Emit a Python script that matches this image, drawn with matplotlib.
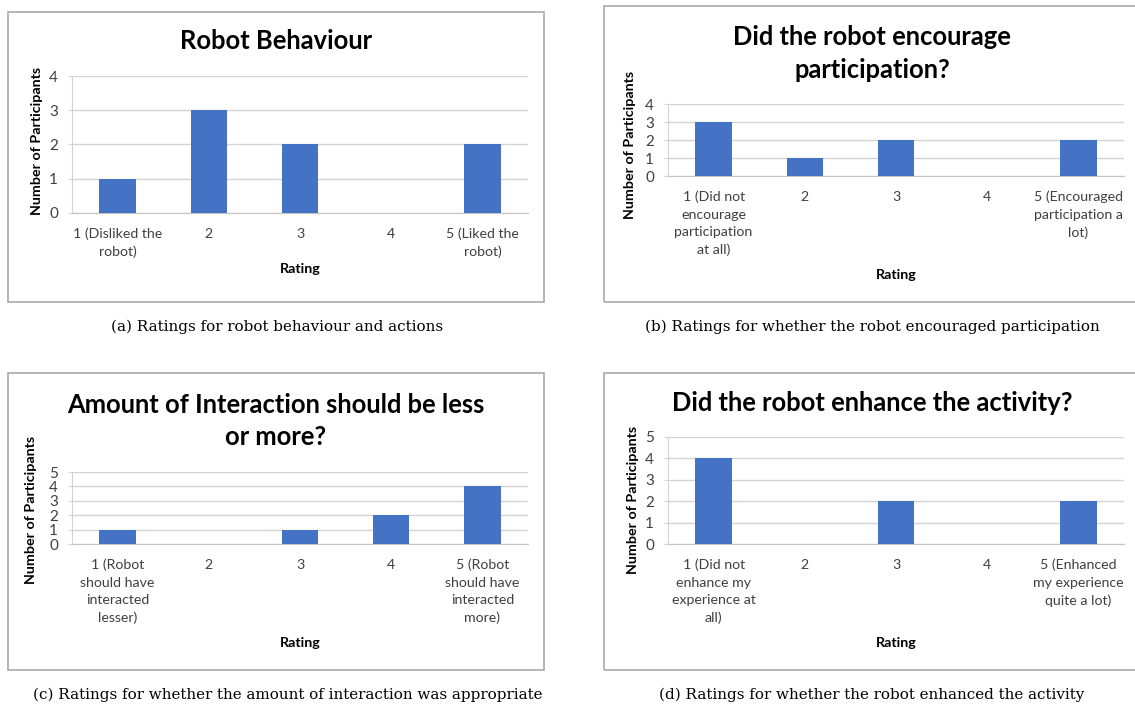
import matplotlib
matplotlib.use("Agg")
import matplotlib.pyplot as plt
from matplotlib.patches import Rectangle

# --- DATA ---
ratings_behaviour = ["1 (Disliked the\nrobot)", "2", "3", "4", "5 (Liked the\nrobot)"]
counts_behaviour = [1, 3, 2, 0, 2]

ratings_encourage = ["1 (Did not\nencourage\nparticipation\nat all)", "2", "3", "4",
                     "5 (Encouraged\nparticipation a\nlot)"]
counts_encourage = [3, 1, 2, 0, 2]

ratings_amount = ["1 (Robot\nshould have\ninteracted\nlesser)", "2", "3", "4",
                  "5 (Robot\nshould have\ninteracted\nmore)"]
counts_amount = [1, 0, 1, 2, 4]

ratings_enhance = ["1 (Did not\nenhance my\nexperience at\nall)", "2", "3", "4",
                   "5 (Enhanced\nmy experience\nquite a lot)"]
counts_enhance = [4, 0, 2, 0, 2]

W, H = 1135, 704
BAR = "#4472C4"
GRID = "#d4d4d4"
SANS = "Lato"
SERIF = "DejaVu Serif"

fig = plt.figure(figsize=(W / 100, H / 100), dpi=100)
fig.patch.set_facecolor("white")


def fx(px):
    return px / W


def fy(py):
    return 1 - py / H


# box, axes, title lines, ylabel pos, xlabel pos, caption pos (all in pixels)
panels = [
    dict(box=(8, 12, 544, 302), ax=(72, 76, 528, 213), ymax=4,
         title=["Robot Behaviour"], title_x=276, title_y=[41],
         ylab=(37, 141), xlab=(300, 269), cap=(277, 327),
         caption="(a) Ratings for robot behaviour and actions",
         cats=ratings_behaviour, vals=counts_behaviour),
    dict(box=(604, 6, 1150, 302), ax=(668, 104, 1124, 176), ymax=4,
         title=["Did the robot encourage", "participation?"], title_x=872, title_y=[37, 70],
         ylab=(630, 145), xlab=(896, 275), cap=(872, 327),
         caption="(b) Ratings for whether the robot encouraged participation",
         cats=ratings_encourage, vals=counts_encourage),
    dict(box=(8, 373, 544, 670), ax=(72, 472, 528, 544), ymax=5,
         title=["Amount of Interaction should be less", "or more?"], title_x=276, title_y=[405, 437],
         ylab=(31, 510), xlab=(300, 643), cap=(288, 695),
         caption="(c) Ratings for whether the amount of interaction was appropriate",
         cats=ratings_amount, vals=counts_amount),
    dict(box=(604, 373, 1150, 670), ax=(668, 437, 1124, 544), ymax=5,
         title=["Did the robot enhance the activity?"], title_x=872, title_y=[403],
         ylab=(633, 500), xlab=(896, 643), cap=(872, 695),
         caption="(d) Ratings for whether the robot enhanced the activity",
         cats=ratings_enhance, vals=counts_enhance),
]

for p in panels:
    # chart frame
    x0, y0, x1, y1 = p["box"]
    fig.patches.append(Rectangle((fx(x0), fy(y1)), fx(x1 - x0), (y1 - y0) / H,
                                 transform=fig.transFigure, fill=False,
                                 edgecolor="#a9a9a9", linewidth=1.2))

    a0, b0, a1, b1 = p["ax"]
    ax = fig.add_axes([fx(a0), fy(b1), fx(a1 - a0), (b1 - b0) / H])
    pos = list(range(len(p["cats"])))
    ax.bar(pos, p["vals"], width=0.4, color=BAR, zorder=3)
    ax.set_xlim(-0.5, len(pos) - 0.5)
    ax.set_ylim(0, p["ymax"])
    ax.set_yticks(range(p["ymax"] + 1))
    ax.set_xticks(pos)
    ax.set_xticklabels(p["cats"], fontsize=10.2, family=SANS, color="#404040",
                       linespacing=1.55)
    for t in ax.get_yticklabels():
        t.set_fontsize(11)
        t.set_family(SANS)
        t.set_color("#404040")
    ax.grid(axis="y", color=GRID, linewidth=1.0, zorder=0)
    for s in ["top", "right"]:
        ax.spines[s].set_visible(False)
    ax.spines["left"].set_color(GRID)
    ax.spines["bottom"].set_color("#c4c4c4")
    ax.tick_params(axis="y", length=3, color=GRID, pad=7)
    ax.tick_params(axis="x", length=0, pad=10.5)

    for line, ty in zip(p["title"], p["title_y"]):
        fig.text(fx(p["title_x"]), fy(ty), line, ha="center", va="center",
                 fontsize=18.4, fontweight="bold", family=SANS, color="black")
    fig.text(fx(p["ylab"][0]), fy(p["ylab"][1]), "Number of Participants",
             rotation=90, ha="center", va="center", fontsize=10.3,
             fontweight="bold", family=SANS, color="black")
    fig.text(fx(p["xlab"][0]), fy(p["xlab"][1]), "Rating", ha="center", va="center",
             fontsize=10.3, fontweight="bold", family=SANS, color="black")
    fig.text(fx(p["cap"][0]), fy(p["cap"][1]), p["caption"], ha="center", va="center",
             fontsize=10.9, family=SERIF, color="black")

fig.savefig("out.png", dpi=100)
